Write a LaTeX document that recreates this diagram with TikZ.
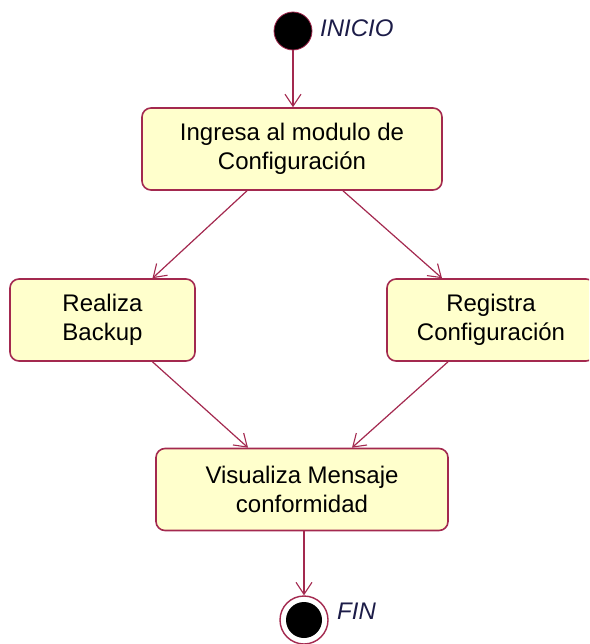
\documentclass[tikz,border=0pt]{standalone}
\usepackage{fontspec}
\setmainfont{Liberation Sans}
\usepackage{tikz}
\usetikzlibrary{arrows.meta,positioning}
\definecolor{umlred}{HTML}{A3294F}
\definecolor{umlfill}{HTML}{FFFFCC}
\definecolor{umlink}{HTML}{1C1C48}
\tikzset{
  actbox/.style={
    rectangle, rounded corners=9pt, draw=umlred, fill=umlfill, line width=1.6pt,
    minimum height=82pt, align=center, inner sep=4pt,
    font=\fontsize{24}{29}\selectfont
  },
  startdot/.style={circle, draw=umlred, fill=black, line width=0.8pt,
    minimum size=38pt, inner sep=0pt},
  enddot/.style={circle, draw=umlred, fill=white, line width=1.4pt,
    minimum size=48pt, inner sep=0pt},
  endcore/.style={circle, fill=black, minimum size=36pt, inner sep=0pt},
  statelabel/.style={font=\fontsize{24}{29}\selectfont\itshape, text=umlink,
    inner sep=0pt, anchor=west},
  flow/.style={
    -{Straight Barb[length=12pt,width=16pt,line width=1.1pt]}, line width=1.2pt,
    color=umlred
  },
}
\begin{document}
\begin{tikzpicture}[x=1pt, y=-1pt]
  \useasboundingbox (0,0) rectangle (589,644);
  \clip (0,0) rectangle (589,644);
  % initial and final states
  \node[startdot] (inicio) at (293,31) {};
  \node[statelabel] (inicioLbl) at (320,28) {INICIO};
  \node[enddot] (fin) at (304,620) {};
  \node[endcore] (finCore) at (fin.center) {};
  \node[statelabel] (finLbl) at (337,611) {FIN};
  % activities
  \node[actbox, minimum width=300pt] (ingreso) at (292,149)
    {Ingresa al modulo de\\Configuración};
  \node[actbox, minimum width=185pt] (backup) at (102.5,320)
    {Realiza\\Backup};
  \node[actbox, minimum width=208pt] (registro) at (491,320)
    {Registra\\Configuración};
  \node[actbox, minimum width=292pt] (mensaje) at (302,489.5)
    {Visualiza Mensaje\\conformidad};
  % transitions
  \draw[flow] (inicio) -- (inicio |- ingreso.north);
  \draw[flow] ([xshift=-45pt]ingreso.south) -- ([xshift=50pt]backup.north);
  \draw[flow] ([xshift=51pt]ingreso.south) -- ([xshift=-49pt]registro.north);
  \draw[flow] ([xshift=50pt]backup.south) -- ([xshift=-54pt]mensaje.north);
  \draw[flow] ([xshift=-43pt]registro.south) -- ([xshift=50pt]mensaje.north);
  \draw[flow] (mensaje.south -| fin) -- (fin.north);
\end{tikzpicture}
\end{document}
